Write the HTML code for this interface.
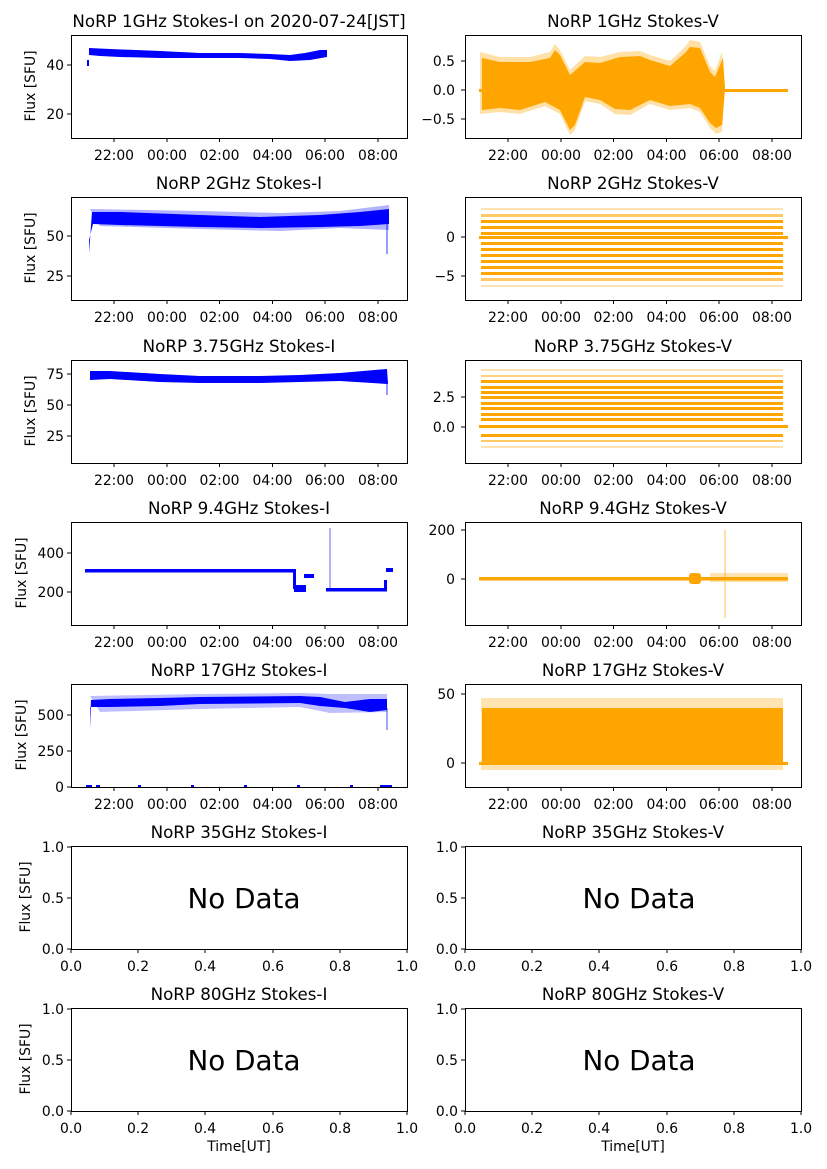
<!DOCTYPE html>
<html><head><meta charset="utf-8"><style>
html,body{margin:0;padding:0;background:#fff}
svg{display:block;font-family:"DejaVu Sans","Liberation Sans",sans-serif}
.t{font-size:13.9px;fill:#000}
.ti{font-size:16.7px;fill:#000;text-anchor:middle}
.ax{fill:none;stroke:#000;stroke-width:1}
.nd{font-size:27.8px;text-anchor:middle;fill:#000}
</style></head><body>
<svg width="827" height="1169" viewBox="0 0 827 1169" xmlns="http://www.w3.org/2000/svg">
<rect width="827" height="1169" fill="#fff"/>

<text class="ti" x="239" y="27">NoRP 1GHz Stokes-I on 2020-07-24[JST]</text>
<text class="ti" x="633" y="27">NoRP 1GHz Stokes-V</text>
<text class="ti" x="239" y="189">NoRP 2GHz Stokes-I</text>
<text class="ti" x="633" y="189">NoRP 2GHz Stokes-V</text>
<text class="ti" x="239" y="352">NoRP 3.75GHz Stokes-I</text>
<text class="ti" x="633" y="352">NoRP 3.75GHz Stokes-V</text>
<text class="ti" x="239" y="514">NoRP 9.4GHz Stokes-I</text>
<text class="ti" x="633" y="514">NoRP 9.4GHz Stokes-V</text>
<text class="ti" x="239" y="676">NoRP 17GHz Stokes-I</text>
<text class="ti" x="633" y="676">NoRP 17GHz Stokes-V</text>
<text class="ti" x="239" y="838">NoRP 35GHz Stokes-I</text>
<text class="ti" x="633" y="838">NoRP 35GHz Stokes-V</text>
<text class="ti" x="239" y="1000">NoRP 80GHz Stokes-I</text>
<text class="ti" x="633" y="1000">NoRP 80GHz Stokes-V</text>

<g class="t" text-anchor="middle">
<text transform="translate(35,86) rotate(-90)">Flux [SFU]</text>
<text transform="translate(35,248) rotate(-90)">Flux [SFU]</text>
<text transform="translate(35,411) rotate(-90)">Flux [SFU]</text>
<text transform="translate(26,573) rotate(-90)">Flux [SFU]</text>
<text transform="translate(26,735) rotate(-90)">Flux [SFU]</text>
<text transform="translate(30,897) rotate(-90)">Flux [SFU]</text>
<text transform="translate(30,1059) rotate(-90)">Flux [SFU]</text>
</g>

<!-- Row1 left -->
<polygon fill="#0000ff" points="87,66 89,66 89,48 110,49 160,51 200,53 240,53 270,54 290,55 305,53 320,50 327,50 327,57 310,60 290,61 270,59 240,58 200,58 160,58 120,57 100,56 89,55 89,60 87,60"/>
<!-- Row1 right -->
<polygon fill="#ffa500" opacity="0.35" points="480,52 500,57 530,57 550,52 555,44 560,50 570,70 585,56 600,57 620,52 640,51 650,55 670,61 685,47 690,40 700,42 710,66 715,71 722,52 725,90 722,132 716,134 710,128 700,112 690,108 670,110 650,104 630,115 615,114 600,104 585,101 575,130 570,135 560,114 545,106 520,114 500,112 480,114"/>
<polygon fill="#ffa500" points="482,58 500,62 530,62 550,58 555,50 560,55 570,75 585,62 600,63 620,57 640,56 650,60 670,66 685,53 690,47 700,48 710,72 715,77 720,65 723,58 725,88 722,125 716,128 710,123 700,108 690,104 670,106 650,100 630,110 615,109 600,100 585,97 575,125 570,130 560,110 545,102 520,110 500,108 482,110"/>
<rect x="479" y="89" width="309" height="3" fill="#ffa500"/>

<!-- Row2 left -->
<polygon fill="#0000ff" opacity="0.3" points="90,209 200,211 280,213 340,211 389,205 389,230 340,228 280,231 200,229 100,226"/>
<polygon fill="#0000ff" points="86,253 89,253 92,212 120,212 200,215 260,217 320,215 360,212 389,209 389,224 360,226 320,227 260,228 200,227 120,225 93,224 89,240 89,253"/>
<rect x="386" y="224" width="2" height="30" fill="#0000ff" opacity="0.4"/>
<!-- Row2 right -->
<g fill="#ffa500">
<rect x="481" y="208" width="302" height="2" opacity="0.3"/>
<rect x="481" y="214" width="302" height="3" opacity="0.6"/>
<rect x="481" y="220" width="302" height="3"/>
<rect x="481" y="226" width="302" height="3"/>
<rect x="481" y="232" width="302" height="3"/>
<rect x="479" y="236" width="309" height="3"/>
<rect x="481" y="242" width="302" height="3"/>
<rect x="481" y="248" width="302" height="3"/>
<rect x="481" y="254" width="302" height="3"/>
<rect x="481" y="260" width="302" height="3"/>
<rect x="481" y="266" width="302" height="3"/>
<rect x="481" y="272" width="302" height="3"/>
<rect x="481" y="278" width="302" height="3" opacity="0.6"/>
<rect x="481" y="285" width="302" height="2" opacity="0.3"/>
</g>

<!-- Row3 left -->
<polygon fill="#0000ff" points="88,394 90,394 90,371 110,371 160,374 200,376 260,376 300,375 340,373 387,369 388,384 340,381 300,382 260,383 200,383 160,382 110,379 90,380 90,394"/>
<rect x="386" y="380" width="2" height="15" fill="#0000ff" opacity="0.4"/>
<!-- Row3 right -->
<g fill="#ffa500">
<rect x="481" y="369" width="302" height="2" opacity="0.3"/>
<rect x="481" y="375" width="302" height="2" opacity="0.5"/>
<rect x="481" y="380" width="302" height="3"/>
<rect x="481" y="386" width="302" height="3"/>
<rect x="481" y="391" width="302" height="3"/>
<rect x="481" y="396" width="302" height="3"/>
<rect x="481" y="402" width="302" height="3"/>
<rect x="481" y="407" width="302" height="3"/>
<rect x="481" y="413" width="302" height="3"/>
<rect x="481" y="418" width="302" height="3"/>
<rect x="479" y="425" width="309" height="3"/>
<rect x="481" y="434" width="302" height="3"/>
<rect x="481" y="440" width="302" height="2" opacity="0.6"/>
<rect x="481" y="446" width="302" height="2" opacity="0.3"/>
</g>

<!-- Row4 left -->
<g fill="#0000ff">
<rect x="85" y="569" width="210" height="3.5"/>
<rect x="293" y="569" width="3" height="20"/>
<rect x="294" y="585" width="12" height="7"/>
<rect x="304" y="574" width="10" height="4"/>
<rect x="326" y="588" width="61" height="3.5"/>
<rect x="329" y="528" width="2" height="60" opacity="0.3"/>
<rect x="386" y="568" width="7" height="4"/>
<rect x="384" y="580" width="3" height="10"/>
</g>
<!-- Row4 right -->
<g fill="#ffa500">
<rect x="479" y="577" width="309" height="3.5"/>
<rect x="689" y="573" width="12" height="11" rx="3"/>
<rect x="710" y="573" width="78" height="9" opacity="0.3"/>
<rect x="724" y="530" width="2" height="88" opacity="0.35"/>
</g>

<!-- Row5 left -->
<polygon fill="#0000ff" opacity="0.25" points="90,696 200,694 300,693 330,694 387,694 387,712 330,713 300,707 200,709 100,712"/>
<polygon fill="#0000ff" points="88,729 90,729 91,700 110,699 160,698 200,697 300,696 320,697 345,702 370,699 387,699 387,710 370,712 345,708 320,706 300,703 200,704 160,706 110,707 90,707 90,729"/>
<rect x="386" y="708" width="2" height="22" fill="#0000ff" opacity="0.35"/>
<g fill="#0000ff"><rect x="86" y="785" width="6" height="2"/><rect x="96" y="785" width="4" height="2"/><rect x="138" y="785" width="3" height="2"/><rect x="191" y="785" width="3" height="2"/><rect x="244" y="785" width="3" height="2"/><rect x="297" y="785" width="3" height="2"/><rect x="350" y="785" width="3" height="2"/><rect x="380" y="785" width="12" height="2"/></g>
<!-- Row5 right -->
<rect x="481" y="698" width="302" height="72" fill="#ffa500" opacity="0.3"/>
<rect x="482" y="708" width="301" height="54" fill="#ffa500"/>
<rect x="479" y="762" width="309" height="3" fill="#ffa500"/>

<g class="ax">
<rect x="71.5" y="35.5" width="336" height="103"/><rect x="465.5" y="35.5" width="336" height="103"/>
<rect x="71.5" y="197.5" width="336" height="103"/><rect x="465.5" y="197.5" width="336" height="103"/>
<rect x="71.5" y="360.5" width="336" height="103"/><rect x="465.5" y="360.5" width="336" height="103"/>
<rect x="71.5" y="522.5" width="336" height="103"/><rect x="465.5" y="522.5" width="336" height="103"/>
<rect x="71.5" y="684.5" width="336" height="103"/><rect x="465.5" y="684.5" width="336" height="103"/>
<rect x="71.5" y="846.5" width="336" height="103"/><rect x="465.5" y="846.5" width="336" height="103"/>
<rect x="71.5" y="1008.5" width="336" height="103"/><rect x="465.5" y="1008.5" width="336" height="103"/>
</g>

<g stroke="#000" stroke-width="1">
<path d="M114,138v4M167,138v4M219.5,138v4M272.5,138v4M325,138v4M378,138v4 M508,138v4M561,138v4M613.5,138v4M666.5,138v4M719,138v4M772,138v4"/>
<path d="M114,300v4M167,300v4M219.5,300v4M272.5,300v4M325,300v4M378,300v4 M508,300v4M561,300v4M613.5,300v4M666.5,300v4M719,300v4M772,300v4"/>
<path d="M114,463v4M167,463v4M219.5,463v4M272.5,463v4M325,463v4M378,463v4 M508,463v4M561,463v4M613.5,463v4M666.5,463v4M719,463v4M772,463v4"/>
<path d="M114,625v4M167,625v4M219.5,625v4M272.5,625v4M325,625v4M378,625v4 M508,625v4M561,625v4M613.5,625v4M666.5,625v4M719,625v4M772,625v4"/>
<path d="M114,787v4M167,787v4M219.5,787v4M272.5,787v4M325,787v4M378,787v4 M508,787v4M561,787v4M613.5,787v4M666.5,787v4M719,787v4M772,787v4"/>
<path d="M71,65h-4M71,114h-4 M465,61h-4M465,90h-4M465,119h-4"/>
<path d="M71,236h-4M71,276h-4 M465,237h-4M465,276h-4"/>
<path d="M71,374h-4M71,405h-4M71,436h-4 M465,397h-4M465,427h-4"/>
<path d="M71,553h-4M71,592h-4 M465,530h-4M465,579h-4"/>
<path d="M71,715h-4M71,751h-4M71,787h-4 M465,694h-4M465,763h-4"/>
<path d="M71,847h-4M71,898h-4M71,949h-4 M465,847h-4M465,898h-4M465,949h-4"/>
<path d="M71,1009h-4M71,1060h-4M71,1111h-4 M465,1009h-4M465,1060h-4M465,1111h-4"/>
<path d="M71,949v4M138,949v4M205,949v4M273,949v4M340,949v4M407,949v4 M465,949v4M532,949v4M599,949v4M667,949v4M734,949v4M801,949v4"/>
<path d="M71,1111v4M138,1111v4M205,1111v4M273,1111v4M340,1111v4M407,1111v4 M465,1111v4M532,1111v4M599,1111v4M667,1111v4M734,1111v4M801,1111v4"/>
</g>

<g class="t" text-anchor="middle">
<g id="tl">
<text x="114" y="160">22:00</text><text x="167" y="160">00:00</text><text x="219.5" y="160">02:00</text><text x="272.5" y="160">04:00</text><text x="325" y="160">06:00</text><text x="378" y="160">08:00</text>
<text x="508" y="160">22:00</text><text x="561" y="160">00:00</text><text x="613.5" y="160">02:00</text><text x="666.5" y="160">04:00</text><text x="719" y="160">06:00</text><text x="772" y="160">08:00</text>
</g>
<use href="#tl" y="162"/><use href="#tl" y="325"/><use href="#tl" y="487"/><use href="#tl" y="649"/>
<g id="fl">
<text x="71" y="971">0.0</text><text x="138" y="971">0.2</text><text x="205" y="971">0.4</text><text x="273" y="971">0.6</text><text x="340" y="971">0.8</text><text x="407" y="971">1.0</text>
<text x="465" y="971">0.0</text><text x="532" y="971">0.2</text><text x="599" y="971">0.4</text><text x="667" y="971">0.6</text><text x="734" y="971">0.8</text><text x="801" y="971">1.0</text>
</g>
<use href="#fl" y="162"/>
<text x="239" y="1151">Time[UT]</text><text x="633" y="1151">Time[UT]</text>
</g>

<g class="t" text-anchor="end">
<text x="64" y="70">40</text><text x="64" y="119">20</text>
<text x="455" y="66">0.5</text><text x="455" y="95">0.0</text><text x="455" y="124">−0.5</text>
<text x="64" y="241">50</text><text x="64" y="281">25</text>
<text x="455" y="242">0</text><text x="455" y="281">−5</text>
<text x="64" y="379">75</text><text x="64" y="410">50</text><text x="64" y="441">25</text>
<text x="455" y="402">2.5</text><text x="455" y="432">0.0</text>
<text x="64" y="558">400</text><text x="64" y="597">200</text>
<text x="455" y="535">200</text><text x="455" y="584">0</text>
<text x="64" y="720">500</text><text x="64" y="756">250</text><text x="64" y="792">0</text>
<text x="455" y="699">50</text><text x="455" y="768">0</text>
<text x="64" y="852">1.0</text><text x="64" y="903">0.5</text><text x="64" y="954">0.0</text>
<text x="458" y="852">1.0</text><text x="458" y="903">0.5</text><text x="458" y="954">0.0</text>
<text x="64" y="1014">1.0</text><text x="64" y="1065">0.5</text><text x="64" y="1116">0.0</text>
<text x="458" y="1014">1.0</text><text x="458" y="1065">0.5</text><text x="458" y="1116">0.0</text>
</g>

<text class="nd" x="244" y="908">No Data</text>
<text class="nd" x="639" y="908">No Data</text>
<text class="nd" x="244" y="1070">No Data</text>
<text class="nd" x="639" y="1070">No Data</text>
</svg>
</body></html>
